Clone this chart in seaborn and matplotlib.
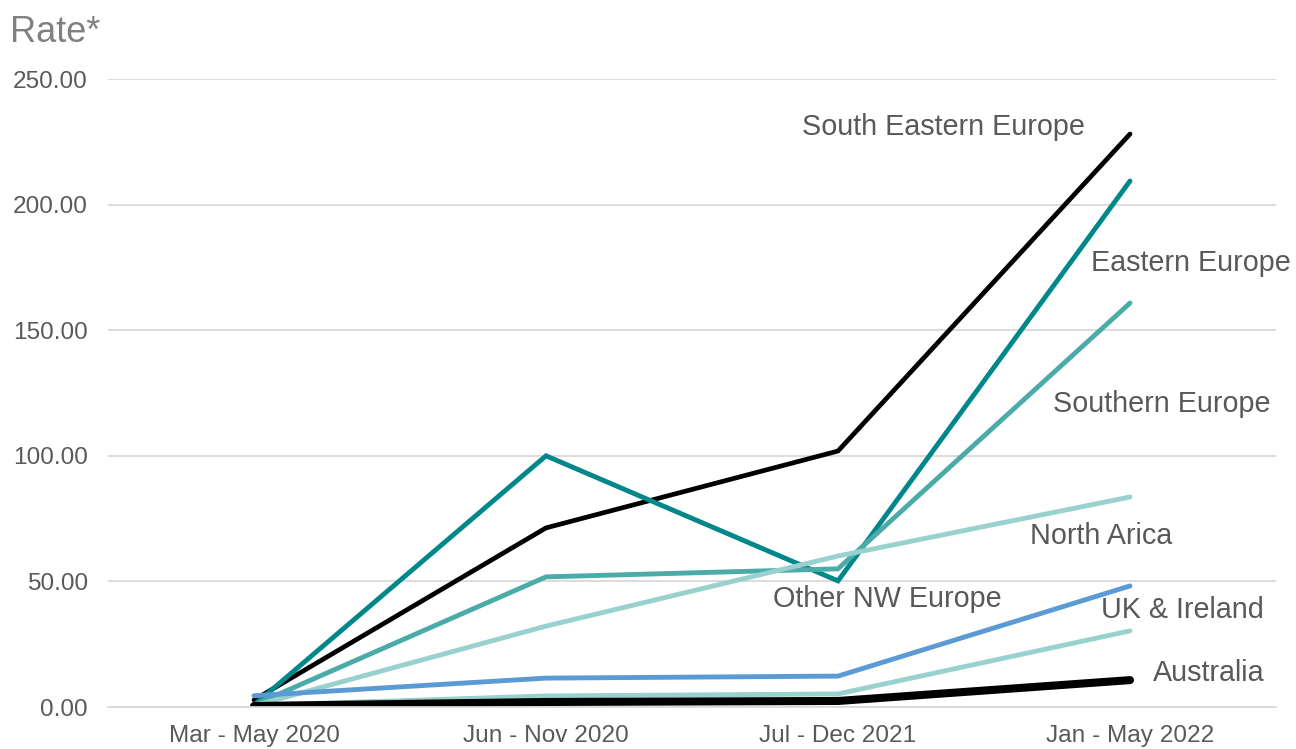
import numpy as np
import pandas as pd
import matplotlib
matplotlib.use("Agg")
import matplotlib.pyplot as plt
import seaborn as sns

periods = ["Mar - May 2020", "Jun - Nov 2020", "Jul - Dec 2021", "Jan - May 2022"]

south_eastern_europe = [2.8, 71.3, 101.9, 228.1]
eastern_europe = [0.8, 100.0, 50.2, 209.4]
southern_europe = [0.8, 51.8, 55.0, 160.8]
north_africa = [0.5, 32.2, 60.1, 83.6]
uk_ireland = [4.5, 11.5, 12.3, 48.2]
other_nw_europe = [0.6, 4.4, 5.2, 30.3]
australia = [0.4, 2.0, 2.4, 10.7]

series = {
    "South Eastern Europe": south_eastern_europe,
    "Eastern Europe": eastern_europe,
    "Southern Europe": southern_europe,
    "North Arica": north_africa,
    "UK & Ireland": uk_ireland,
    "Other NW Europe": other_nw_europe,
    "Australia": australia,
}

colors = {
    "South Eastern Europe": "#000000",
    "Eastern Europe": "#00878A",
    "Southern Europe": "#4AABA8",
    "North Arica": "#98D1CD",
    "UK & Ireland": "#5B9BD5",
    "Other NW Europe": "#98D1CD",
    "Australia": "#000000",
}
widths = {
    "South Eastern Europe": 3.4,
    "Eastern Europe": 3.5,
    "Southern Europe": 3.5,
    "North Arica": 3.5,
    "UK & Ireland": 3.5,
    "Other NW Europe": 3.5,
    "Australia": 5.8,
}

# label anchor points (category index, value)
label_pos = {
    "South Eastern Europe": (2.36, 231.0),
    "Eastern Europe": (3.21, 176.8),
    "Southern Europe": (3.11, 120.6),
    "North Arica": (2.90, 68.1),
    "Other NW Europe": (2.17, 43.0),
    "UK & Ireland": (3.18, 38.6),
    "Australia": (3.27, 13.5),
}

rows = []
for name, vals in series.items():
    for i, v in enumerate(vals):
        rows.append({"series": name, "x": i, "rate": v})
df = pd.DataFrame(rows)

sns.set_theme(style="white")
plt.rcParams["font.family"] = ["Liberation Sans", "DejaVu Sans"]

fig = plt.figure(figsize=(12.96, 7.49), dpi=100)
ax = fig.add_axes([108 / 1296, 1 - 707 / 749, (1276 - 108) / 1296, (707 - 79) / 749])

for name in series:
    sub = df[df["series"] == name]
    sns.lineplot(data=sub, x="x", y="rate", ax=ax, color=colors[name],
                 linewidth=widths[name], solid_capstyle="round",
                 solid_joinstyle="miter", legend=False)

ax.set_xlim(-0.5, 3.5)
ax.set_ylim(0, 250)
ax.set_xticks(range(len(periods)))
ax.set_xticklabels(periods)
yt = [0, 50, 100, 150, 200, 250]
ax.set_yticks(yt)
ax.set_yticklabels([f"{v:.2f}" for v in yt])
ax.tick_params(axis="both", length=0, labelsize=17.6, colors="#595959")
ax.tick_params(axis="y", pad=14.5)
ax.tick_params(axis="x", pad=13)
ax.set_xlabel("")
ax.set_ylabel("")
ax.yaxis.grid(True, color="#D9D9D9", linewidth=1.3)
ax.xaxis.grid(False)
ax.set_axisbelow(True)
for s in ["top", "right", "left"]:
    ax.spines[s].set_visible(False)
ax.spines["bottom"].set_color("#D9D9D9")
ax.spines["bottom"].set_linewidth(1.3)

for name, (lx, ly) in label_pos.items():
    ax.text(lx, ly, name, ha="center", va="center", fontsize=20.7, color="#595959")

fig.text(10 / 1296, 1 - 42 / 749, "Rate*", fontsize=26, color="#808080",
         ha="left", va="baseline")

fig.savefig("out.png", dpi=100)
